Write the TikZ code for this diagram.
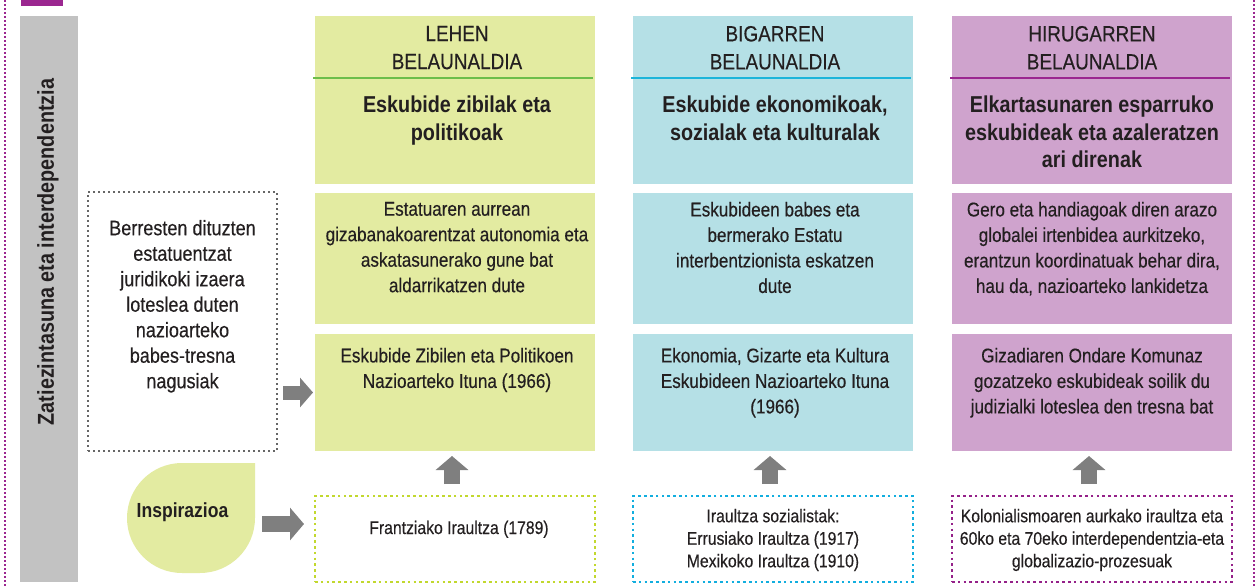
\documentclass[tikz,border=0pt]{standalone}
\usepackage{fontspec}
\setmainfont{Liberation Sans}[FakeStretch=0.86]
\newfontfamily\medfont{Liberation Sans}[FakeStretch=0.86,FakeBold=0.35]
\usetikzlibrary{arrows.meta,calc}
\definecolor{genA}{HTML}{E3EBA1}
\definecolor{genB}{HTML}{B5E0E6}
\definecolor{genC}{HTML}{CFA3CD}
\definecolor{sepA}{HTML}{6DBE4B}
\definecolor{sepB}{HTML}{1CB5DA}
\definecolor{sepC}{HTML}{9B2790}
\definecolor{dotA}{HTML}{C2D82E}
\definecolor{dotB}{HTML}{12AEDF}
\definecolor{dotC}{HTML}{952189}
\definecolor{dotG}{HTML}{666666}
\definecolor{barc}{HTML}{C2C2C2}
\definecolor{arrc}{HTML}{7F7F7F}
\definecolor{txt}{HTML}{231F20}
\definecolor{purp}{HTML}{9B2790}
\begin{document}
\begin{tikzpicture}[x=1pt,y=1pt,
  every node/.style={text=txt, inner sep=0pt, outer sep=0pt},
  panel/.style={minimum width=280pt},
  gentxt/.style={anchor=north, align=center, font=\medfont\fontsize{22}{28}\selectfont},
  titletxt/.style={anchor=north, align=center, font=\bfseries\fontsize{23}{27.5}\selectfont},
  bodytxt/.style={anchor=north, align=center, font=\medfont\fontsize{19.9}{25.5}\selectfont},
  foottxt/.style={align=center, font=\medfont\fontsize{18.3}{22.5}\selectfont},
  dotbox/.style={dash pattern=on 2.6pt off 3.2pt, line width=2.6pt},
  sepline/.style={line width=1.2pt},
  blk/.style={draw=arrc, line width=16pt, -{Triangle[width=32pt,length=14pt]}},
  blksmall/.style={draw=arrc, line width=14pt, -{Triangle[width=29pt,length=13pt]}}
]
\useasboundingbox (0,0) rectangle (1258,-586);

% outer frame lines and top tab
\draw[purp, line width=1.6pt, dash pattern=on 1.6pt off 2.4pt] (5,0) -- (5,-586);
\draw[purp, line width=1.6pt, dash pattern=on 1.6pt off 2.4pt] (1254,0) -- (1254,-586);
\fill[purp] (21,0) rectangle (63,-6);

% gray side bar
\node[fill=barc, minimum width=58pt, minimum height=566pt, anchor=north west] (bar) at (20,-16) {};
\node[rotate=90, font=\bfseries\fontsize{23}{26}\selectfont] (bartxt) at ($(bar.center)+(-1,47)$) {Zatiezintasuna eta interdependentzia};

% left dotted box
\node[draw=dotG, dash pattern=on 2pt off 3pt, line width=2pt, minimum width=189pt, minimum height=259pt] (lb) at (182.5,-321.5) {};
\node[anchor=north, align=center, font=\medfont\fontsize{21}{25.5}\selectfont] (lbt) at ($(lb.north)+(0,-28)$) {Berresten dituzten\\estatuentzat\\juridikoki izaera\\loteslea duten\\nazioarteko\\babes-tresna\\nagusiak};

% inspirazioa drop
\node[minimum width=128pt, minimum height=110pt] (tear) at (191,-518) {};
\fill[genA] (tear.north east) -- ($(tear.east)$) arc[start angle=0,end angle=-90,radius=55] -- ($(tear.south)+(-9,0)$) arc[start angle=-90,end angle=-270,radius=55] -- cycle;
\node[font=\bfseries\fontsize{20.4}{22}\selectfont] (insp) at ($(tear.center)+(-8.5,6)$) {Inspirazioa};

% ===== column 1 =====
\node[panel, fill=genA, minimum height=168pt] (h1) at (455,-100) {};
\node[panel, fill=genA, minimum height=131pt] (d1) at (455,-258.5) {};
\node[panel, fill=genA, minimum height=117pt] (i1) at (455,-392.5) {};
\node[panel, minimum height=86pt, draw=dotA, dotbox] (f1) at (455,-539) {};
\draw[sepline, sepA] ($(h1.north west)+(-2,-62)$) -- ($(h1.north east)+(-2,-62)$);
\node[gentxt] (g1) at ($(h1.north)+(2,-10)$) {LEHEN\\BELAUNALDIA};
\node[titletxt] (t1) at ($(h1.north)+(2,-80)$) {Eskubide zibilak eta\\politikoak};
\node[bodytxt] (b1) at ($(d1.north)+(2,-9)$) {Estatuaren aurrean\\gizabanakoarentzat autonomia eta\\askatasunerako gune bat\\aldarrikatzen dute};
\node[bodytxt] (c1) at ($(i1.north)+(2,-14)$) {Eskubide Zibilen eta Politikoen\\Nazioarteko Ituna (1966)};
\node[foottxt, anchor=base] (e1) at ($(f1.center)+(4,5)$) {Frantziako Iraultza (1789)};

% ===== column 2 =====
\node[panel, fill=genB, minimum height=168pt] (h2) at (773,-100) {};
\node[panel, fill=genB, minimum height=131pt] (d2) at (773,-258.5) {};
\node[panel, fill=genB, minimum height=117pt] (i2) at (773,-392.5) {};
\node[panel, minimum height=86pt, draw=dotB, dotbox] (f2) at (773,-539) {};
\draw[sepline, sepB] ($(h2.north west)+(-2,-62)$) -- ($(h2.north east)+(-2,-62)$);
\node[gentxt] (g2) at ($(h2.north)+(2,-10)$) {BIGARREN\\BELAUNALDIA};
\node[titletxt] (t2) at ($(h2.north)+(2,-80)$) {Eskubide ekonomikoak,\\sozialak eta kulturalak};
\node[bodytxt] (b2) at ($(d2.north)+(2,-9)$) {Eskubideen babes eta\\bermerako Estatu\\interbentzionista eskatzen\\dute};
\node[bodytxt] (c2) at ($(i2.north)+(2,-14)$) {Ekonomia, Gizarte eta Kultura\\Eskubideen Nazioarteko Ituna\\(1966)};
\node[foottxt] (e2) at ($(f2.center)+(0,-1)$) {Iraultza sozialistak:\\Errusiako Iraultza (1917)\\Mexikoko Iraultza (1910)};

% ===== column 3 =====
\node[panel, fill=genC, minimum height=168pt] (h3) at (1092,-100) {};
\node[panel, fill=genC, minimum height=131pt] (d3) at (1092,-258.5) {};
\node[panel, fill=genC, minimum height=117pt] (i3) at (1092,-392.5) {};
\node[panel, minimum height=86pt, draw=dotC, dotbox] (f3) at (1092,-539) {};
\draw[sepline, sepC] ($(h3.north west)+(-2,-62)$) -- ($(h3.north east)+(-2,-62)$);
\node[gentxt] (g3) at ($(h3.north)+(0,-10)$) {HIRUGARREN\\BELAUNALDIA};
\node[titletxt] (t3) at ($(h3.north)+(0,-80)$) {Elkartasunaren esparruko\\eskubideak eta azaleratzen\\ari direnak};
\node[bodytxt] (b3) at ($(d3.north)+(0,-9)$) {Gero eta handiagoak diren arazo\\globalei irtenbidea aurkitzeko,\\erantzun koordinatuak behar dira,\\hau da, nazioarteko lankidetza};
\node[bodytxt] (c3) at ($(i3.north)+(0,-14)$) {Gizadiaren Ondare Komunaz\\gozatzeko eskubideak soilik du\\judizialki loteslea den tresna bat};
\node[foottxt] (e3) at ($(f3.center)+(0,-1)$) {Kolonialismoaren aurkako iraultza eta\\60ko eta 70eko interdependentzia-eta\\globalizazio-prozesuak};

% ===== arrows =====
\draw[blksmall] ($(lb.east |- i1.west)+(6,0)$) -- ($(i1.west)+(-2,0)$);
\draw[blk] ($(tear.east)+(7,-6)$) -- ($(f1.west |- tear.east)+(-11,-6)$);
\draw[blk] ($(f1.north)+(-3,12)$) -- ($(i1.south)+(-3,-5)$);
\draw[blk] ($(f2.north)+(-3,12)$) -- ($(i2.south)+(-3,-5)$);
\draw[blk] ($(f3.north)+(-3,12)$) -- ($(i3.south)+(-3,-5)$);
\end{tikzpicture}
\end{document}
